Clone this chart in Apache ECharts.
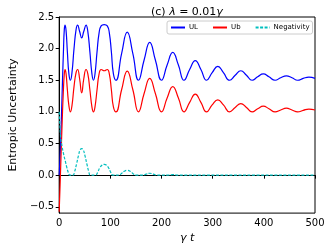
<!DOCTYPE html>
<html>
<head>
<meta charset="utf-8">
<script src="https://cdn.jsdelivr.net/npm/echarts@6/dist/echarts.min.js"></script>
<style>html,body{margin:0;padding:0;background:#fff;}#c{width:332px;height:249px;}</style>
</head>
<body>
<div id="c"></div>
<script>
// ---- data ----
const ulT = [0,2.5,4.5,6.5,8.5,10,11.5,13.5,16,19,22,25,29,33,36,40,44,48,52.5,56,60,64,67,70,74,78,82,88,94,98,102,106,111,122,133,144,155,166,177,188,200,211,222,233,244,255,266,277,288,299,310,321,333,344,355,366,377,388,399,410,422,433,444,455,466,477,488,500];
const ulV = [0.0,0.45,0.95,1.5,2.0,2.3,2.37,2.28,1.95,1.6,1.5,1.62,2.0,2.3,2.37,2.27,2.17,2.27,2.37,2.27,1.95,1.6,1.5,1.6,1.95,2.25,2.36,2.38,2.36,2.25,1.95,1.6,1.5,1.92,2.26,1.92,1.5,1.82,2.10,1.82,1.5,1.74,1.94,1.74,1.5,1.67,1.81,1.67,1.5,1.62,1.72,1.62,1.5,1.58,1.65,1.58,1.5,1.555,1.60,1.555,1.5,1.54,1.57,1.54,1.5,1.53,1.55,1.53];

const ubT = [0,2,4,6,8,10,11.5,13.5,16,19,22,25,29,33,36,40,44,48,52.5,56,60,64,67,70,74,78,82,88,94,98,102,106,111,122,133,144,155,166,177,188,200,211,222,233,244,255,266,277,288,299,310,321,333,344,355,366,377,388,399,410,422,433,444,455,466,477,488,500];
const ubV = [-0.58,-0.1,0.4,0.88,1.3,1.6,1.67,1.6,1.35,1.1,1.0,1.1,1.4,1.62,1.67,1.52,1.30,1.52,1.67,1.6,1.35,1.08,1.0,1.08,1.35,1.6,1.67,1.65,1.67,1.6,1.35,1.08,1.0,1.35,1.645,1.35,1.0,1.29,1.53,1.29,1.0,1.22,1.40,1.22,1.0,1.15,1.28,1.15,1.0,1.11,1.19,1.11,1.0,1.07,1.13,1.07,1.0,1.05,1.09,1.05,1.0,1.03,1.06,1.03,1.0,1.025,1.045,1.03];

const negT = [0,1.5,3,6,9,12,15,18,21,27,30,34,38,41,44,47,50,54,58,61,71,75,79,84,88,92,97,101,105,117,121,127,133,139,145,150,163,170,177,184,192,212,222,232,500];
const negV = [1.0,0.78,0.6,0.44,0.32,0.22,0.12,0.04,0.0,0.0,0.05,0.18,0.32,0.40,0.42,0.40,0.32,0.18,0.05,0.0,0.0,0.04,0.11,0.16,0.17,0.16,0.11,0.04,0.0,0.0,0.02,0.06,0.075,0.06,0.02,0.0,0.0,0.015,0.03,0.015,0.0,0.0,0.008,0.0,0.0];

const seriesNames = ['UL','Ub','Negativity'];
const xTicks = [0,100,200,300,400,500];
const yTicks = [-0.5,0.0,0.5,1.0,1.5,2.0,2.5];

function pairs(t, v){ return t.map((x,i)=>[x, v[i]]); }

const chart = echarts.init(document.getElementById('c'), null, {renderer:'canvas'});
const font = 'DejaVu Sans';
chart.setOption({
  animation:false,
  backgroundColor:'#fff',
  title:{
    text:'(c) {i|λ} = 0.01{i|γ}',
    left:146, top:2,
    textStyle:{fontFamily:font, fontSize:11, fontWeight:'normal', color:'#000',
      rich:{i:{fontFamily:font, fontSize:11, fontStyle:'italic', color:'#000'}}}
  },
  legend:{
    data:seriesNames,
    left:167, top:21,
    padding:[3,3],
    itemWidth:14, itemHeight:6, itemGap:14,
    itemStyle:{color:'rgba(0,0,0,0)', borderWidth:0, opacity:0},
    borderColor:'#cccccc', borderWidth:1, borderRadius:2,
    backgroundColor:'rgba(255,255,255,0.8)',
    textStyle:{fontFamily:font, fontSize:7, color:'#000', padding:[0,0,0,-1]}
  },
  grid:{left:50, right:17, top:17, bottom:32, show:true, borderColor:'#000', borderWidth:1, backgroundColor:'transparent'},
  xAxis:{
    type:'value', min:0, max:500, interval:100,
    name:'{i|γ t}', nameLocation:'middle', nameGap:19,
    nameTextStyle:{fontFamily:font, fontSize:11, color:'#000', rich:{i:{fontFamily:font, fontSize:11, fontStyle:'italic', color:'#000'}}},
    axisLine:{show:true, lineStyle:{color:'#000', width:1}},
    axisTick:{show:true, length:3.5, lineStyle:{color:'#000'}},
    axisLabel:{fontFamily:font, fontSize:10, color:'#000', margin:5},
    splitLine:{show:false}
  },
  yAxis:{
    type:'value', min:-0.6, max:2.5,
    name:'Entropic Uncertainty', nameLocation:'middle', nameGap:36,
    nameTextStyle:{fontFamily:font, fontSize:11, color:'#000'},
    axisLine:{show:true, onZero:false, lineStyle:{color:'#000', width:1}},
    axisTick:{show:true, length:3.5, lineStyle:{color:'#000'}, customValues:yTicks},
    axisLabel:{fontFamily:font, fontSize:10, color:'#000', margin:5, customValues:yTicks,
      formatter:v=>v.toFixed(1).replace('-','\u2212')},
    splitLine:{show:false}
  },
  series:[
    {name:seriesNames[0], type:'line', data:pairs(ulT,ulV), symbol:'none', smooth:0.5,
      lineStyle:{color:'#0000ff', width:1.2}, itemStyle:{color:'#0000ff'}},
    {name:seriesNames[1], type:'line', data:pairs(ubT,ubV), symbol:'none', smooth:0.5,
      lineStyle:{color:'#ff0000', width:1.2}, itemStyle:{color:'#ff0000'}},
    {name:seriesNames[2], type:'line', data:pairs(negT,negV), symbol:'none', smooth:0.5,
      lineStyle:{color:'#00bfbf', width:1.2, type:[3,1.5]}, itemStyle:{color:'#00bfbf'}}
  ]
});
</script>
</body>
</html>
